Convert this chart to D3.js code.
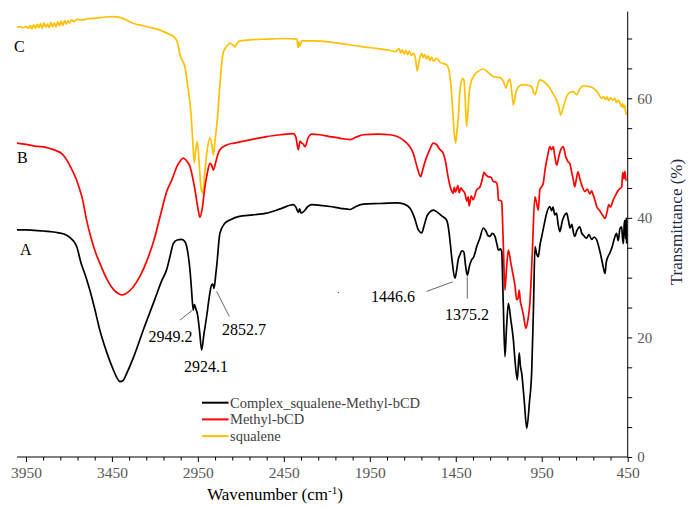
<!DOCTYPE html>
<html><head><meta charset="utf-8">
<script src="https://cdn.jsdelivr.net/npm/d3@7"></script>
<style>body{margin:0;background:#fff}svg{display:block}</style>
</head><body><svg id="chart" width="688" height="508"></svg>
<script>
// ---------- data ----------
const majorTicks = [3950, 3450, 2950, 2450, 1950, 1450, 950, 450];
const minorTicks = d3.range(3850, 450, -100).filter(v => !majorTicks.includes(v));
const yTicks = d3.range(0, 75, 5);
const yLabels = [0, 20, 40, 60];
const seriesNames = ["Complex_squalene-Methyl-bCD", "Methyl-bCD", "squalene"];
const seriesColors = ["#000000", "#FF0000", "#FFC000"];

const squalene = [[4002,71.9],[3985,72.0],[3965,71.8],[3950,72.0],[3935,71.7],[3925,72.2],[3915,71.6],[3905,72.3],[3895,71.7],[3885,72.4],[3875,71.8],[3865,72.5],[3855,71.7],[3845,72.6],[3835,71.9],[3825,72.4],[3815,71.8],[3805,72.7],[3795,72.0],[3785,72.6],[3775,71.9],[3765,72.8],[3755,72.1],[3745,72.9],[3735,72.2],[3725,73.0],[3715,72.4],[3705,73.0],[3695,72.6],[3685,73.1],[3670,72.8],[3655,73.2],[3630,73.1],[3590,73.3],[3540,73.4],[3490,73.6],[3445,73.65],[3400,73.5],[3330,72.6],[3250,72.0],[3170,71.4],[3130,70.9],[3083,70.1],[3065,69.0],[3054,67.2],[3040,66.3],[3025,65.2],[3008,61.9],[2990,57.5],[2980,53.0],[2971,49.2],[2962,51.5],[2953,52.7],[2942,49.0],[2932,45.0],[2922,44.1],[2910,47.5],[2895,51.5],[2880,53.4],[2870,52.5],[2860,50.5],[2850,53.0],[2837,56.4],[2820,63.0],[2804,67.5],[2785,68.6],[2763,69.2],[2745,68.9],[2734,68.6],[2720,69.3],[2705,69.6],[2630,69.8],[2548,69.9],[2450,70.0],[2374,69.9],[2368,68.5],[2362,69.4],[2356,68.7],[2346,69.6],[2279,69.6],[2182,69.4],[2080,69.0],[1988,68.6],[1900,68.3],[1830,68.0],[1800,67.8],[1780,68.3],[1770,67.6],[1760,68.1],[1750,67.4],[1740,68.0],[1730,67.3],[1720,67.9],[1710,67.2],[1697,67.5],[1685,66.8],[1674,64.6],[1662,66.4],[1648,67.5],[1640,66.8],[1630,67.3],[1620,66.6],[1610,67.1],[1600,66.3],[1590,66.9],[1580,66.2],[1561,66.7],[1540,66.0],[1520,65.8],[1503,65.6],[1490,64.8],[1484,63.6],[1476,61.5],[1468,58.0],[1460,54.5],[1451,52.5],[1443,54.5],[1435,56.9],[1428,60.5],[1420,62.5],[1410,63.3],[1403,63.1],[1396,60.5],[1387,55.3],[1380,57.5],[1372,60.8],[1360,62.8],[1349,63.6],[1320,64.5],[1290,64.9],[1260,64.3],[1232,63.6],[1200,63.5],[1183,63.3],[1170,62.6],[1158,61.7],[1146,62.8],[1135,63.2],[1126,61.5],[1115,58.9],[1100,61.0],[1086,61.9],[1060,62.3],[1037,62.2],[1020,62.1],[1008,61.9],[998,61.0],[989,60.6],[975,62.0],[961,63.1],[930,62.6],[903,61.7],[885,60.8],[864,59.7],[850,58.5],[840,57.2],[825,58.5],[805,60.3],[785,61.0],[766,61.1],[755,60.8],[747,60.6],[730,61.5],[708,62.1],[680,62.0],[650,61.7],[625,61.0],[601,60.0],[590,60.3],[580,59.8],[570,60.2],[560,59.6],[550,60.1],[537,59.7],[525,60.0],[515,59.3],[505,59.7],[495,59.2],[485,58.6],[480,59.1],[475,58.4],[468,58.8],[462,57.8],[456,57.2]];

const methylBCD = [[4002,52.5],[3950,52.3],[3900,52.0],[3860,51.9],[3810,51.6],[3770,51.2],[3740,50.7],[3713,49.7],[3690,48.5],[3670,47.3],[3655,46.3],[3640,45.0],[3620,43.0],[3600,40.0],[3570,36.5],[3545,34.2],[3520,32.4],[3480,29.8],[3440,28.0],[3410,27.3],[3393,27.1],[3370,27.3],[3330,28.3],[3287,30.2],[3240,33.3],[3200,36.8],[3170,40.2],[3130,44.5],[3102,46.3],[3070,48.7],[3050,49.6],[3035,50.0],[3015,49.5],[2996,48.6],[2980,46.7],[2967,44.7],[2952,42.0],[2938,40.1],[2925,41.5],[2909,45.2],[2895,47.5],[2880,49.1],[2870,48.8],[2860,48.0],[2847,49.2],[2835,50.5],[2822,51.4],[2783,52.2],[2740,52.5],[2705,52.7],[2620,53.2],[2550,53.6],[2470,53.9],[2395,54.1],[2380,53.5],[2366,51.4],[2356,52.8],[2346,52.5],[2336,52.3],[2327,51.9],[2310,53.3],[2288,54.0],[2240,53.9],[2182,53.6],[2120,53.3],[2065,53.1],[2030,53.5],[1988,53.9],[1900,54.0],[1833,53.9],[1790,53.6],[1755,53.0],[1725,52.2],[1697,50.8],[1675,48.5],[1654,46.9],[1640,48.3],[1619,50.2],[1600,51.5],[1581,52.5],[1560,52.2],[1545,51.5],[1523,50.8],[1510,49.5],[1495,46.9],[1480,45.0],[1466,44.1],[1458,45.1],[1452,44.3],[1446,44.7],[1438,45.4],[1430,44.2],[1420,45.0],[1410,44.6],[1397,44.1],[1385,42.8],[1378,43.5],[1372,42.0],[1360,43.7],[1349,43.0],[1330,44.6],[1309,45.2],[1295,46.5],[1286,47.6],[1275,47.2],[1261,46.9],[1245,46.8],[1232,46.1],[1220,46.0],[1212,45.8],[1206,44.8],[1202,43.0],[1190,42.9],[1183,42.7],[1174,36.0],[1164,27.9],[1155,31.5],[1144,34.6],[1130,32.5],[1115,30.2],[1105,28.5],[1096,26.3],[1088,26.5],[1081,27.9],[1074,26.0],[1067,25.1],[1055,23.5],[1042,21.5],[1030,23.0],[1019,25.7],[1005,34.0],[990,43.5],[980,42.5],[970,41.3],[961,44.7],[951,45.2],[941,45.8],[931,48.0],[915,50.5],[903,51.9],[893,51.4],[883,51.9],[875,50.5],[863,48.8],[848,50.6],[838,51.5],[825,51.9],[810,50.2],[797,49.4],[787,49.1],[775,47.5],[766,46.3],[758,45.2],[748,46.6],[739,47.7],[728,46.5],[715,45.3],[699,44.4],[685,44.8],[670,44.0],[660,44.5],[650,43.8],[640,42.9],[630,41.9],[615,41.3],[600,40.6],[590,40.2],[582,39.9],[570,41.0],[560,42.2],[550,41.8],[534,43.0],[520,43.8],[505,44.6],[495,44.9],[485,45.2],[479,47.6],[472,46.5],[466,47.8],[460,46.3],[456,46.3]];

const complexSM = [[4002,38.0],[3950,38.0],[3900,37.9],[3850,37.8],[3810,37.7],[3760,37.5],[3713,37.1],[3690,36.6],[3670,36.0],[3655,35.2],[3630,32.5],[3600,30.0],[3578,27.9],[3550,24.8],[3520,21.2],[3480,17.5],[3442,14.6],[3420,13.2],[3403,12.6],[3385,12.8],[3364,14.0],[3320,17.0],[3268,21.2],[3200,26.4],[3160,29.5],[3132,31.3],[3110,33.8],[3093,35.7],[3070,36.3],[3044,36.4],[3025,36.0],[3015,35.2],[3005,33.5],[2996,31.3],[2987,28.0],[2977,24.6],[2970,25.5],[2963,24.9],[2952,23.8],[2940,21.0],[2928,17.9],[2915,20.5],[2899,23.5],[2885,26.5],[2870,28.8],[2863,28.9],[2856,28.2],[2846,30.5],[2837,33.0],[2828,36.0],[2822,37.4],[2793,39.1],[2760,39.7],[2715,40.2],[2630,40.5],[2550,40.8],[2470,41.5],[2395,42.2],[2380,41.8],[2366,40.9],[2358,41.5],[2350,40.8],[2337,41.0],[2310,41.9],[2288,42.2],[2240,42.1],[2182,41.9],[2120,41.6],[2065,41.4],[2030,41.9],[1988,42.3],[1900,42.4],[1794,42.5],[1750,42.3],[1716,41.6],[1690,40.0],[1668,38.0],[1648,37.5],[1635,38.6],[1619,40.2],[1600,41.0],[1581,41.3],[1560,41.0],[1530,40.3],[1503,39.6],[1492,38.2],[1484,36.3],[1470,32.5],[1455,29.9],[1445,31.2],[1436,33.0],[1426,33.8],[1415,34.5],[1403,34.3],[1393,32.0],[1383,30.4],[1370,32.0],[1357,33.0],[1345,33.5],[1328,35.2],[1310,36.6],[1290,38.3],[1275,37.8],[1262,37.0],[1251,36.9],[1238,37.4],[1222,36.9],[1210,35.5],[1202,34.6],[1190,34.8],[1183,34.3],[1174,26.0],[1164,16.8],[1155,21.5],[1144,25.7],[1130,23.0],[1115,19.6],[1105,16.0],[1092,12.9],[1081,17.4],[1074,15.2],[1067,14.1],[1052,9.5],[1037,4.8],[1022,9.0],[1008,14.6],[998,25.0],[989,35.2],[980,34.0],[970,33.5],[960,35.5],[950,36.9],[935,39.0],[921,40.8],[903,41.9],[893,41.2],[884,41.8],[875,40.5],[864,40.8],[855,39.0],[845,37.7],[830,39.5],[818,40.4],[805,40.8],[795,39.6],[785,38.3],[775,38.9],[766,37.6],[758,36.9],[745,37.9],[729,38.5],[718,37.5],[705,37.0],[690,36.6],[675,37.2],[660,36.4],[645,36.8],[630,36.3],[615,34.8],[601,33.0],[590,31.5],[582,30.7],[575,32.5],[565,33.5],[554,34.1],[540,35.2],[528,36.5],[515,37.4],[505,36.2],[495,38.2],[485,38.5],[480,36.5],[475,35.7],[470,39.0],[466,39.6],[462,36.5],[458,40.0],[456,35.7]];

const seriesData = [complexSM, methylBCD, squalene];

const curveLetters = [
  {text: "C", wn: 4019, t: 67.7},
  {text: "B", wn: 4002, t: 49.2},
  {text: "A", wn: 3985, t: 33.8}
];
const peakLabels = [
  {text: "2949.2", wn: 3109, t: 19.2, line: [[3054, 22.9], [2980, 24.6]]},
  {text: "2924.1", wn: 2903, t: 14.2, line: null},
  {text: "2852.7", wn: 2682, t: 20.4, line: [[2841, 27.7], [2767, 23.5]]},
  {text: "1446.6", wn: 1815, t: 25.9, line: [[1619, 27.7], [1468, 29.3]]},
  {text: "1375.2", wn: 1385, t: 22.9, line: [[1383, 30.2], [1383, 26.5]]}
];

// ---------- drawing ----------
const svg = d3.select("#chart");
const serif = "'Liberation Serif','Times New Roman',serif";
const x = d3.scaleLinear().domain([4002, 450]).range([17, 627.7]);
const y = d3.scaleLinear().domain([0, 74.5]).range([457, 11.6]);

const line = d3.line().x(d => x(d[0])).y(d => y(d[1])).curve(d3.curveMonotoneX);

// draw order: squalene, methyl, complex (black on top)
[2, 1, 0].forEach(i => {
  svg.append("path")
    .datum(seriesData[i])
    .attr("fill", "none")
    .attr("stroke", seriesColors[i])
    .attr("stroke-width", 1.7)
    .attr("stroke-linejoin", "round")
    .attr("d", line);
});

// x axis
const xAxisG = svg.append("g").attr("transform", `translate(0,${y(0)})`);
xAxisG.append("line").attr("x1", x.range()[0]).attr("x2", x.range()[1]).attr("stroke", "#000").attr("stroke-width", 1);
const xMajor = d3.axisBottom(x).tickValues(majorTicks).tickSize(5).tickSizeOuter(0).tickPadding(5).tickFormat(d3.format("d"));
const xMajG = svg.append("g").attr("transform", `translate(0,${y(0)})`).call(xMajor);
xMajG.select(".domain").remove();
xMajG.selectAll("text").attr("font-family", serif).attr("font-size", "15.5px").attr("fill", "#595959");
const xMinor = d3.axisBottom(x).tickValues(minorTicks).tickSize(3.5).tickSizeOuter(0).tickFormat("");
const xMinG = svg.append("g").attr("transform", `translate(0,${y(0)})`).call(xMinor);
xMinG.select(".domain").remove();

// right y axis
const yAxis = d3.axisRight(y).tickValues(yTicks).tickSize(4.5).tickSizeOuter(0).tickPadding(5)
  .tickFormat(d => yLabels.includes(d) ? d : "");
const yG = svg.append("g").attr("transform", `translate(${x(450)},0)`).call(yAxis);
yG.select(".domain").remove();
yG.append("line").attr("y1", y(0)).attr("y2", y.range()[1]).attr("stroke", "#000");
yG.selectAll("text").attr("font-family", serif).attr("font-size", "15px").attr("fill", "#595959");

// axis titles
const xt = svg.append("text").attr("x", 275).attr("y", 500).attr("text-anchor", "middle")
  .attr("font-family", serif).attr("font-size", "17px").attr("fill", "#000");
xt.append("tspan").text("Wavenumber (cm");
xt.append("tspan").attr("font-size", "11px").attr("dy", "-6").text("-1");
xt.append("tspan").attr("dy", "6").text(")");

svg.append("text").attr("transform", "translate(682,222) rotate(-90)").attr("text-anchor", "middle")
  .attr("font-family", serif).attr("font-size", "17px").attr("fill", "#1f2a44").text("Transmittance (%)");

// curve letters
svg.selectAll(".letter").data(curveLetters).enter().append("text")
  .attr("x", d => x(d.wn)).attr("y", d => y(d.t))
  .attr("font-family", serif).attr("font-size", "16px").attr("fill", "#000").text(d => d.text);

// peak annotations
peakLabels.forEach(p => {
  if (p.line) {
    svg.append("line")
      .attr("x1", x(p.line[0][0])).attr("y1", y(p.line[0][1]))
      .attr("x2", x(p.line[1][0])).attr("y2", y(p.line[1][1]))
      .attr("stroke", "#404040").attr("stroke-width", 0.8);
  }
  svg.append("text").attr("x", x(p.wn)).attr("y", y(p.t)).attr("text-anchor", "middle")
    .attr("font-family", serif).attr("font-size", "16px").attr("fill", "#000").text(p.text);
});
svg.append("circle").attr("cx", x(2133)).attr("cy", y(27.5)).attr("r", 0.7).attr("fill", "#555");

// legend
const legend = svg.append("g");
seriesNames.forEach((name, i) => {
  const ly = 402.7 + i * 16.7;
  legend.append("line").attr("x1", 202).attr("x2", 228.5).attr("y1", ly).attr("y2", ly)
    .attr("stroke", seriesColors[i]).attr("stroke-width", 2);
  legend.append("text").attr("x", 230).attr("y", ly + 5).attr("font-family", serif)
    .attr("font-size", "14.5px").attr("fill", "#404040").text(name);
});
</script>
</body></html>
